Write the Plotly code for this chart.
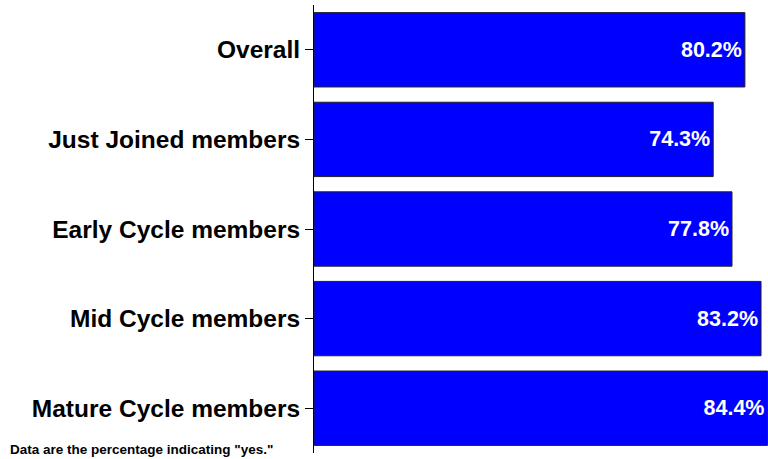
import plotly.graph_objects as go

categories = ["Overall", "Just Joined members", "Early Cycle members", "Mid Cycle members", "Mature Cycle members"]
values = [80.2, 74.3, 77.8, 83.2, 84.4]
labels = [f"{v:.1f}%" for v in values]
footnote = 'Data are the percentage indicating "yes."'

W, H = 768, 459
L, R, T, B = 314, 0, 5, 6
pw, ph = W - L - R, H - T - B
FONT = "Liberation Sans, Arial, Helvetica, sans-serif"

fig = go.Figure(go.Bar(
    y=categories, x=values, orientation="h",
    marker=dict(color="#0000FF", line=dict(color="#222222", width=1)),
    text=labels, textposition="inside", insidetextanchor="end",
    textfont=dict(color="white", size=21.5, family=FONT, weight="bold"),
    constraintext="none",
    cliponaxis=False,
))

fig.update_layout(
    width=W, height=H,
    margin=dict(l=L, r=R, t=T, b=B),
    plot_bgcolor="white", paper_bgcolor="white",
    bargap=0.17,
    showlegend=False,
    font=dict(family=FONT, color="black"),
    xaxis=dict(range=[0, 84.5], visible=False, showgrid=False, zeroline=False),
    yaxis=dict(autorange="reversed", showline=True, linecolor="black", linewidth=1,
               ticks="outside", ticklen=8, tickcolor="black", tickwidth=1,
               tickfont=dict(size=24.5, family=FONT, color="black", weight="bold"),
               showgrid=False, zeroline=False),
    annotations=[dict(
        text=footnote, xref="paper", yref="paper",
        x=(8 - L) / pw, y=(H - B - 449) / ph, xanchor="left", yanchor="middle",
        showarrow=False, font=dict(size=13.5, color="black", family=FONT, weight="bold"),
    )],
)

fig.write_html("out.html", config={"displayModeBar": False},
               post_script="document.body.style.margin='0';document.body.style.overflow='hidden';")
